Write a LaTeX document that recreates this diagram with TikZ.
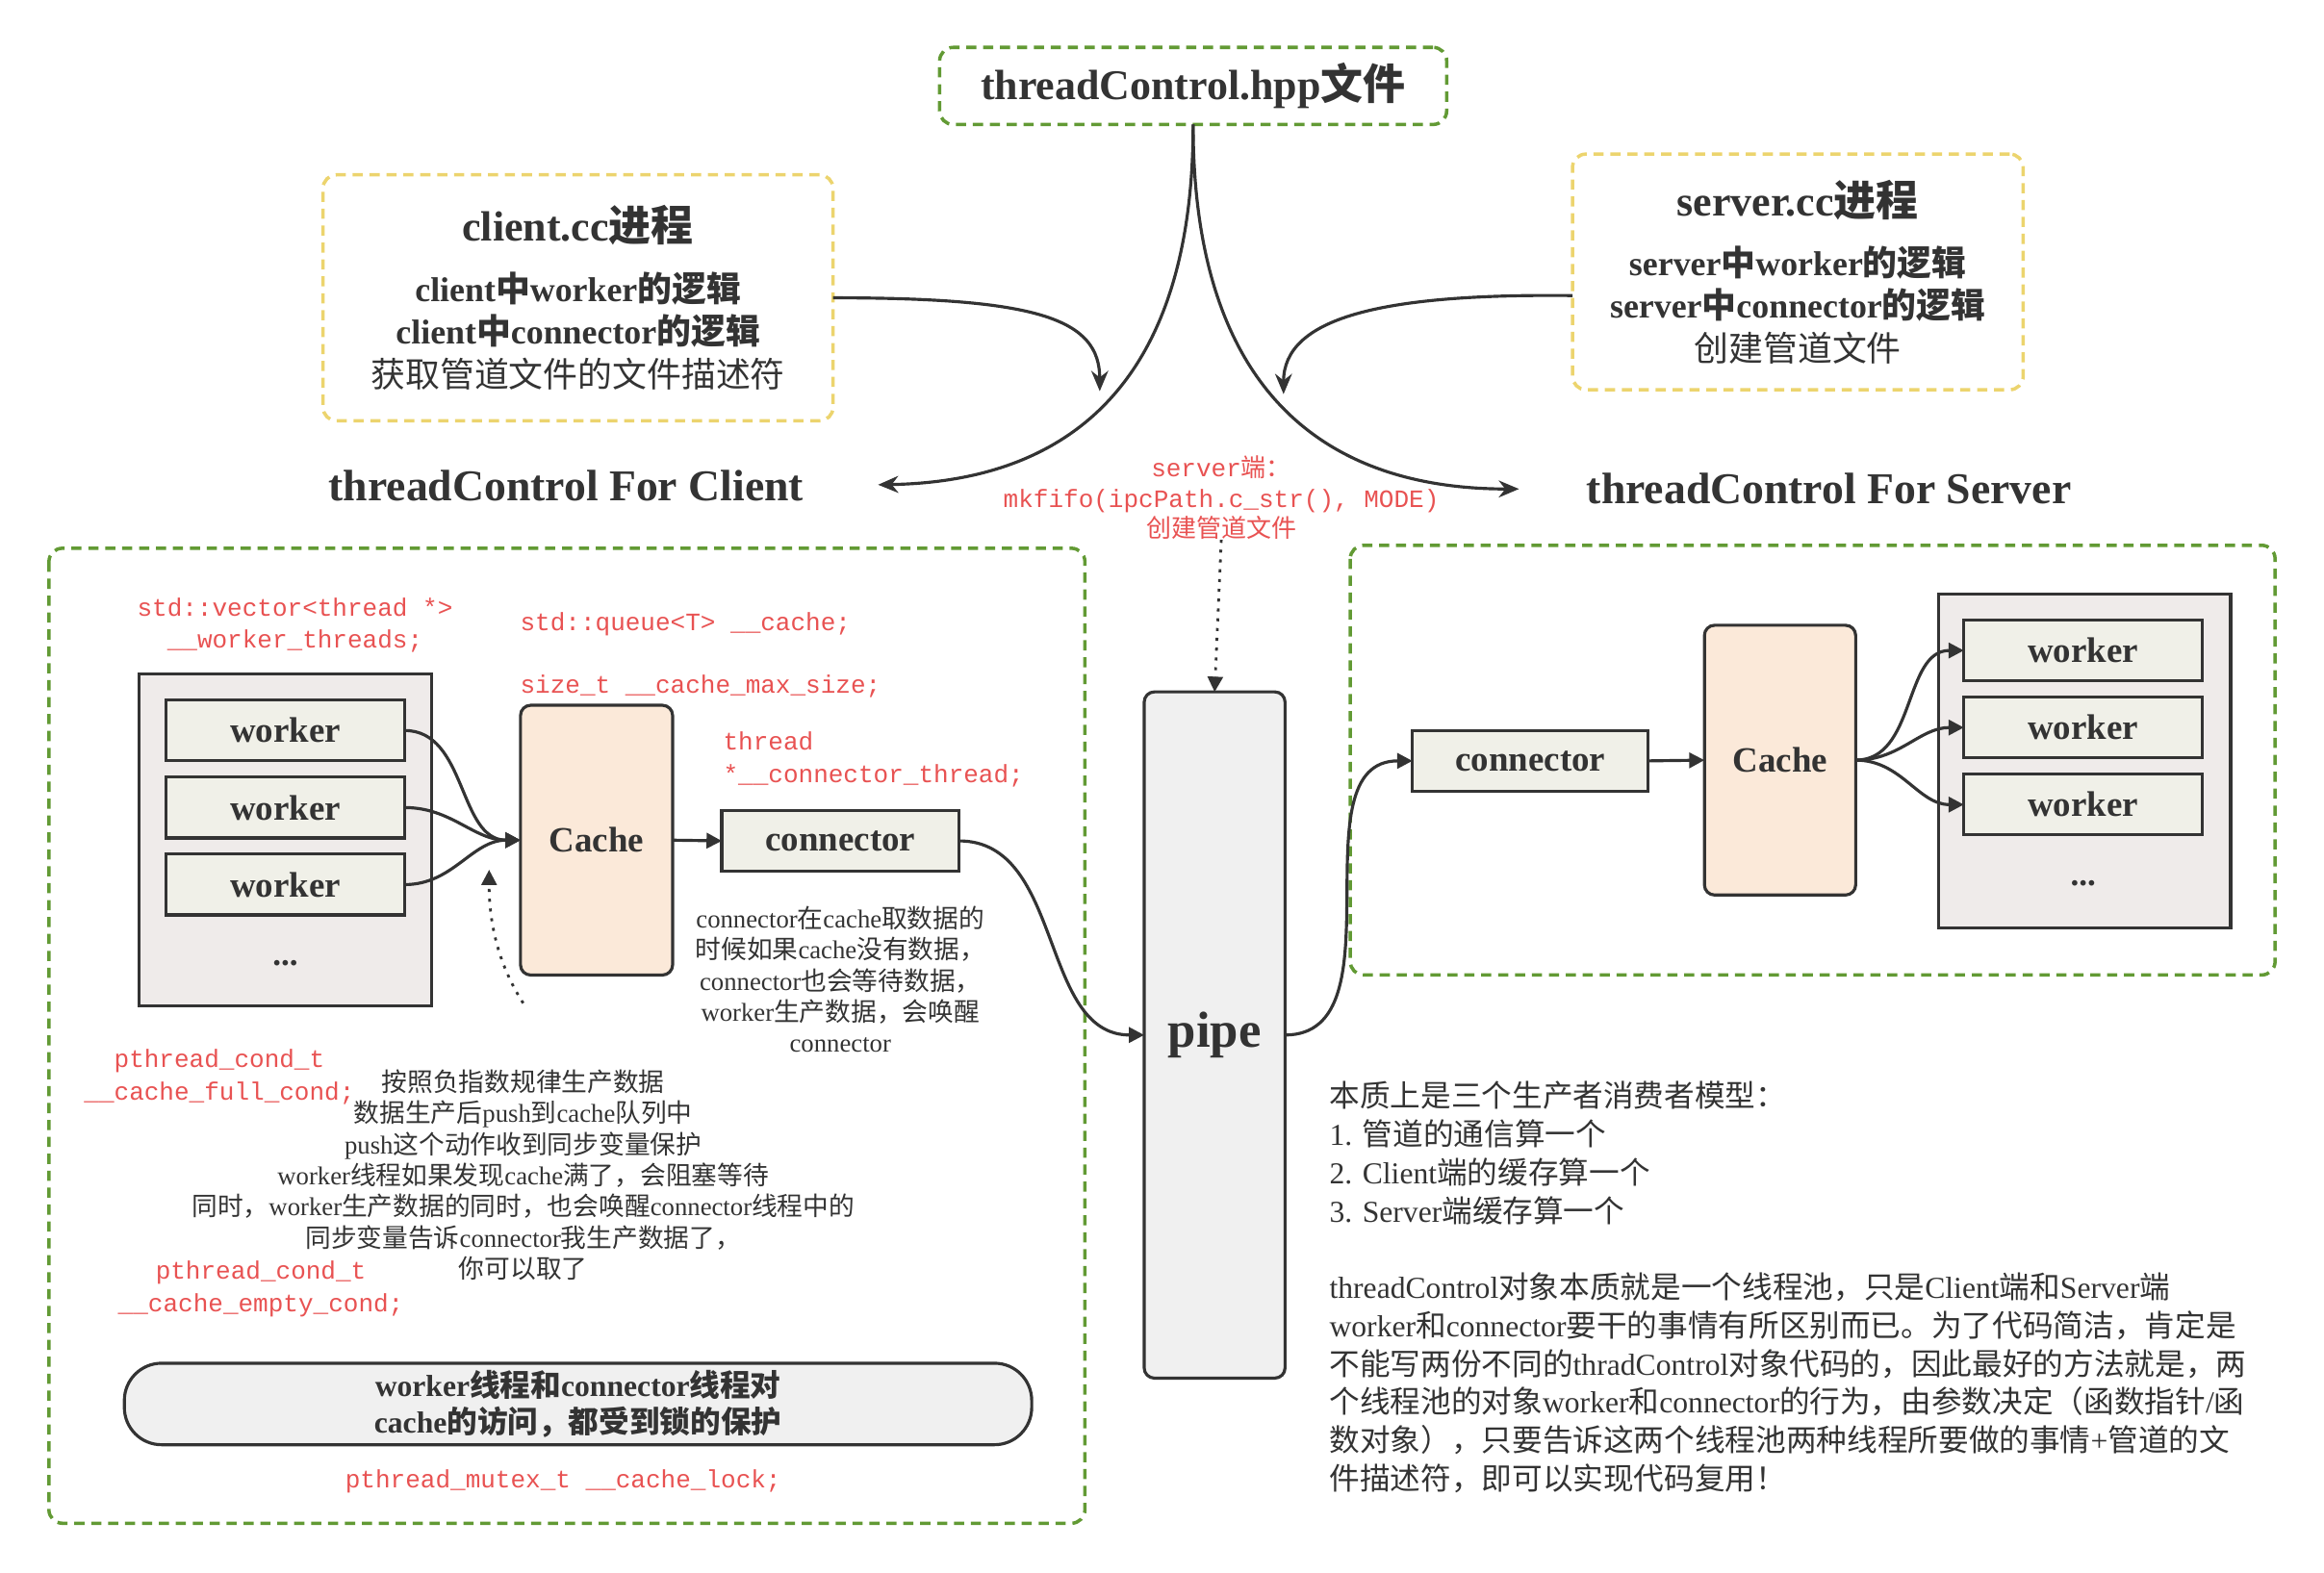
\documentclass[tikz,border=0pt]{standalone}
\usepackage{fontspec}
\usepackage{tikz}
\usetikzlibrary{arrows.meta,positioning}
\setmainfont{Liberation Serif}
\setmonofont{Liberation Mono}
\newfontfamily\cjk{Noto Sans CJK SC}
\newcommand\zh[1]{{\cjk #1}}

\definecolor{ink}{RGB}{51,51,51}
\definecolor{dashgreen}{RGB}{98,154,52}
\definecolor{procyellow}{RGB}{236,212,110}
\definecolor{codered}{RGB}{232,82,82}
\definecolor{unitfill}{RGB}{240,240,232}
\definecolor{poolfill}{RGB}{239,235,234}
\definecolor{cachefill}{RGB}{251,233,217}
\definecolor{pipefill}{RGB}{240,240,240}

\begin{document}
\begin{tikzpicture}
  [x=0.0154cm,y=-0.0154cm,
   every node/.style={text=ink,inner sep=0pt,outer sep=0pt},
   unit/.style={draw=ink,line width=0.9pt,fill=unitfill,minimum width=2.479cm,minimum height=0.631cm,font=\bfseries\fontsize{10.5}{12}\selectfont},
   pool/.style={draw=ink,line width=0.9pt,fill=poolfill,minimum width=3.034cm,minimum height=3.45cm},
   cachebox/.style={draw=ink,line width=0.9pt,fill=cachefill,rounded corners=3pt,minimum width=1.58cm,minimum height=2.803cm,font=\bfseries\fontsize{10.5}{12}\selectfont},
   frame/.style={draw=dashgreen,line width=1pt,dash pattern=on 3pt off 2pt,rounded corners=4pt},
   process/.style={draw=procyellow,line width=1pt,dash pattern=on 3pt off 2pt,rounded corners=4pt,align=center,font=\fontsize{10.2}{12.7}\selectfont},
   code/.style={text=codered,font=\ttfamily\fontsize{7.4}{9.6}\selectfont,align=center},
   note/.style={font=\fontsize{7.6}{9.2}\selectfont,align=center},
   flow/.style={-{Triangle[length=4.5pt,width=4.5pt]},line width=0.9pt,draw=ink},
   link/.style={-{Stealth[length=6pt,width=5pt]},line width=0.9pt,draw=ink}]
  \useasboundingbox (0,0) rectangle (1568,1061);

  % top part
  \node[frame,minimum width=5.267cm,minimum height=0.801cm,font=\bfseries\fontsize{12.5}{14}\selectfont] (hpp) at (805,58) {threadControl.hpp\zh{文件}};
  \node[process,minimum width=5.298cm,minimum height=2.556cm] (client) at (390,201)
    {{\bfseries\fontsize{12.5}{14}\selectfont client.cc\zh{进程}}\\[5pt]
     \textbf{client\zh{中}worker\zh{的逻辑}}\\ \textbf{client\zh{中}connector\zh{的逻辑}}\\ \zh{获取管道文件的文件描述符}};
  \node[process,minimum width=4.682cm,minimum height=2.449cm] (server) at (1213,183.5)
    {{\bfseries\fontsize{12.5}{14}\selectfont server.cc\zh{进程}}\\[5pt]
     \textbf{server\zh{中}worker\zh{的逻辑}}\\ \textbf{server\zh{中}connector\zh{的逻辑}}\\ \zh{创建管道文件}};
  \node[font=\bfseries\fontsize{13}{15}\selectfont] (forclient) at (382,328) {threadControl For Client};
  \node[font=\bfseries\fontsize{13}{15}\selectfont] (forserver) at (1234,330) {threadControl For Server};
  \coordinate (cl) at (742,264);
  \coordinate (sr) at (866,266);
  \draw[link,shorten >=22pt] (hpp.south) .. controls (805,260) and (720,325) .. (forclient.east);
  \draw[link,shorten >=20pt] (hpp.south) .. controls (805,260) and (890,330) .. (forserver.west);
  \draw[link] (client.east) .. controls (700,201) and (742,215) .. (cl);
  \draw[link] ([yshift=-7pt]server.west) .. controls (930,198) and (866,215) .. (sr);

  % client side
  \draw[frame] (33,370) rectangle (732,1028);
  \node[code] (vec) at (199,422) {std::vector<thread *>\\\_\_worker\_threads;};
  \node[code,anchor=west] (queue) at (351,421) {std::queue<T> \_\_cache;};
  \node[code,anchor=west] (maxsize) at (351,463) {size\_t \_\_cache\_max\_size;};
  \node[code,anchor=west,align=left] (conthread) at (488,512.5) {thread\\*\_\_connector\_thread;};
  \node[pool] (lpool) at (192.5,567) {};
  \node[unit] (lw1) at (192.5,493) {worker};
  \node[unit] (lw2) at (192.5,545) {worker};
  \node[unit] (lw3) at (192.5,597) {worker};
  \node[font=\bfseries\fontsize{10}{12}\selectfont] (ldots) at (192.5,650) {...};
  \node[cachebox] (lcache) at (402.5,567) {Cache};
  \node[unit,minimum width=2.464cm] (lconn) at (567,567.5) {connector};
  \foreach \w in {lw1,lw2,lw3}
    \draw[flow] (\w.east) to[out=0,in=180] (lcache.west);
  \draw[flow] (lcache.east) -- (lconn.west);
  \coordinate (waitsrc) at (353,677);
  \coordinate (waittip) at (330,587);
  \draw[flow,dotted,line width=0.8pt] (waitsrc) .. controls (337,652) and (330,625) .. (waittip);
  \node[note] (waitnote) at (567,661) {connector\zh{在}cache\zh{取数据的}\\\zh{时候如果}cache\zh{没有数据，}\\connector\zh{也会等待数据，}\\worker\zh{生产数据，会唤醒}\\connector};
  \node[code] (fullcond) at (148,727) {pthread\_cond\_t\\\_\_cache\_full\_cond;};
  \node[note] (pushnote) at (353,793) {\zh{按照负指数规律生产数据}\\\zh{数据生产后}push\zh{到}cache\zh{队列中}\\push\zh{这个动作收到同步变量保护}\\worker\zh{线程如果发现}cache\zh{满了，会阻塞等待}\\\zh{同时，}worker\zh{生产数据的同时，也会唤醒}connector\zh{线程中的}\\\zh{同步变量告诉}connector\zh{我生产数据了，}\\\zh{你可以取了}};
  \node[code] (emptycond) at (176,870) {pthread\_cond\_t\\\_\_cache\_empty\_cond;};
  \node[draw=ink,line width=0.9pt,fill=pipefill,rounded corners=11pt,minimum width=9.425cm,minimum height=0.847cm,align=center,font=\bfseries\fontsize{9}{11}\selectfont] (lock) at (390,947.5) {worker\zh{线程和}connector\zh{线程对}\\cache\zh{的访问，都受到锁的保护}};
  \node[code] (mutex) at (380,1000) {pthread\_mutex\_t \_\_cache\_lock;};

  % pipe
  \node[code,font=\ttfamily\fontsize{7.4}{9}\selectfont] (mkfifo) at (824,336) {server\zh{端：}\\mkfifo(ipcPath.c\_str(), MODE)\\\zh{创建管道文件}};
  \node[draw=ink,line width=0.9pt,fill=pipefill,rounded corners=3pt,minimum width=1.463cm,minimum height=7.13cm,font=\bfseries\fontsize{15}{17}\selectfont] (pipe) at (819.5,698.5) {pipe};
  \draw[flow,dotted,line width=0.8pt] (mkfifo.south) -- (pipe.north);
  \draw[flow] (lconn.east) to[out=0,in=180] (pipe.west);

  % server side
  \draw[frame] (911,368) rectangle (1535,658);
  \node[unit,minimum width=2.449cm] (rconn) at (1032.5,513.5) {connector};
  \node[cachebox,minimum width=1.571cm] (rcache) at (1201,513) {Cache};
  \node[pool,minimum height=3.465cm] (rpool) at (1406.5,513.5) {};
  \node[unit] (rw1) at (1405.5,439) {worker};
  \node[unit] (rw2) at (1405.5,491) {worker};
  \node[unit] (rw3) at (1405.5,543) {worker};
  \node[font=\bfseries\fontsize{10}{12}\selectfont] (rdots) at (1405.5,596) {...};
  \draw[flow] (pipe.east) to[out=0,in=180] (rconn.west);
  \draw[flow] (rconn.east) -- (rcache.west);
  \foreach \w in {rw1,rw2,rw3}
    \draw[flow] (rcache.east) to[out=0,in=180] (\w.west);

  % summary
  \node[anchor=north west,align=left,font=\fontsize{9}{11.3}\selectfont] (model) at (897,730)
    {\zh{本质上是三个生产者消费者模型：}\\1. \zh{管道的通信算一个}\\2. Client\zh{端的缓存算一个}\\3. Server\zh{端缓存算一个}};
  \node[anchor=north west,align=left,font=\fontsize{9}{11.3}\selectfont] (summary) at (897,859)
    {threadControl\zh{对象本质就是一个线程池，只是}Client\zh{端和}Server\zh{端}\\
     worker\zh{和}connector\zh{要干的事情有所区别而已。为了代码简洁，肯定是}\\
     \zh{不能写两份不同的}thradControl\zh{对象代码的，因此最好的方法就是，两}\\
     \zh{个线程池的对象}worker\zh{和}connector\zh{的行为，由参数决定（函数指针}/\zh{函}\\
     \zh{数对象），只要告诉这两个线程池两种线程所要做的事情}+\zh{管道的文}\\
     \zh{件描述符，即可以实现代码复用！}};
\end{tikzpicture}
\end{document}
